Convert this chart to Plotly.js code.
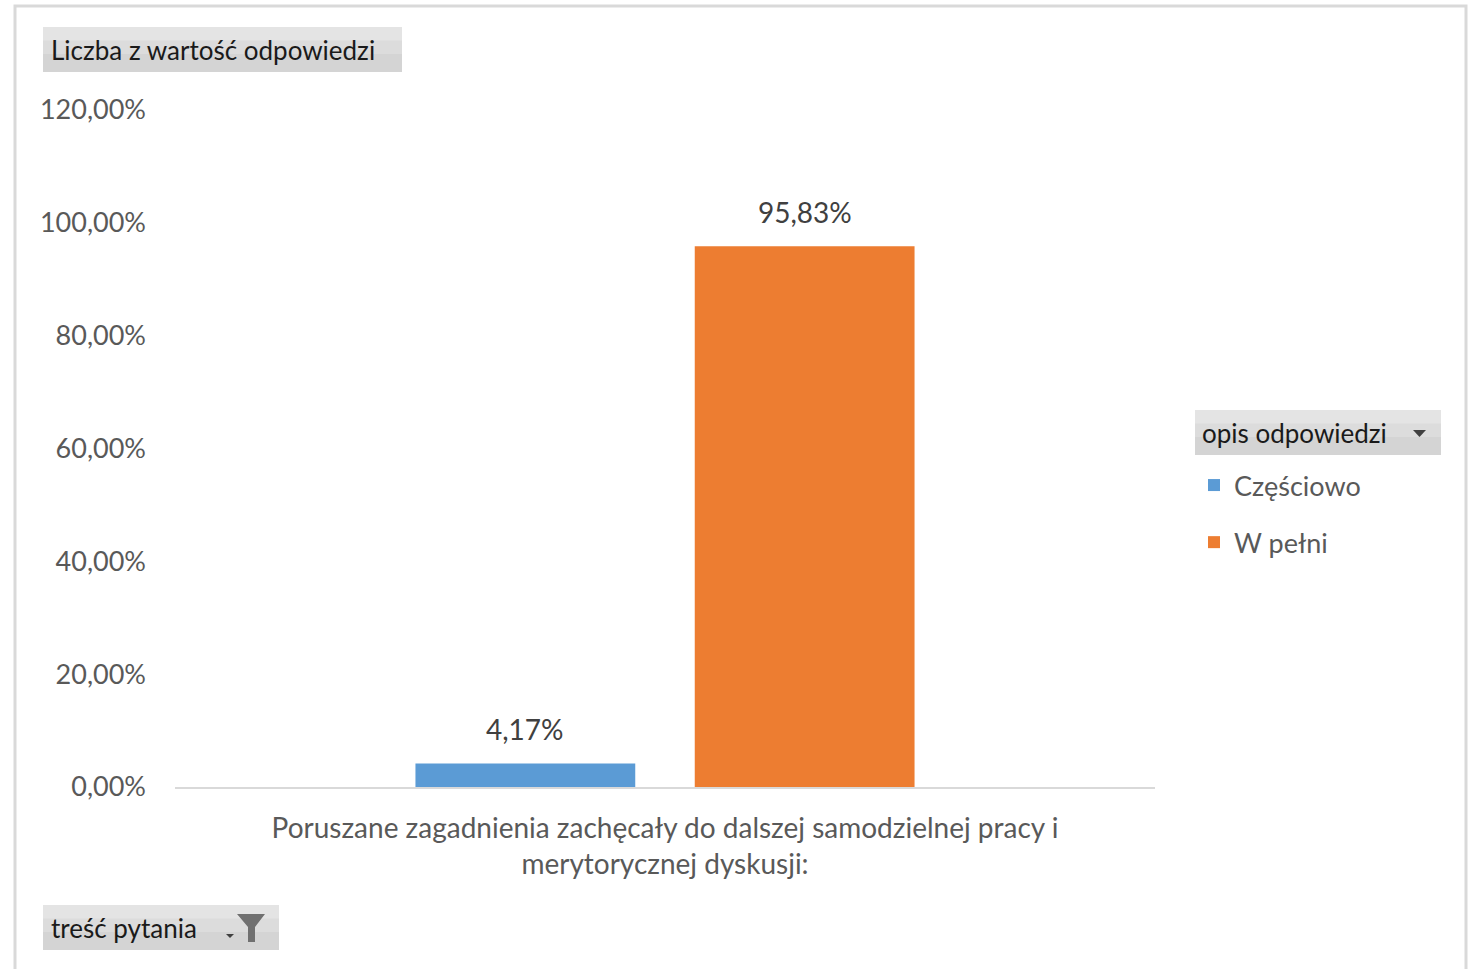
<!DOCTYPE html>
<html>
<head>
<meta charset="utf-8">
<script src="https://cdn.plot.ly/plotly-3.0.1.min.js"></script>
<style>html,body{margin:0;padding:0;background:#fff;}#chart{width:1471px;height:969px;}</style>
</head>
<body>
<div id="chart"></div>
<script>
const categories = ["Poruszane zagadnienia zachęcały do dalszej samodzielnej pracy i<br>merytorycznej dyskusji:"];
const seriesNames = ["Częściowo", "W pełni"];
const czesciowo = [0.0417];
const wPelni = [0.9583];
const seriesColors = ["#5b9bd5", "#ed7d31"];
const yTicks = [0, 0.2, 0.4, 0.6, 0.8, 1.0, 1.2];

const FONT = "Lato, 'Open Sans', sans-serif";
const L = 175, R = 1155, T = 110, B = 787;
const px = v => (v - L) / (R - L);
const py = v => (B - v) / (B - T);
const fmtPct = v => (v * 100).toFixed(2).replace('.', ',') + '%';

const seriesValues = [czesciowo, wPelni];
const traces = seriesValues.map((vals, i) => ({
  type: 'bar',
  name: seriesNames[i],
  x: categories,
  y: vals,
  marker: {color: seriesColors[i]},
  legendgroup: 'g' + i,
  hoverinfo: 'none'
}));

function box(x0, y0, x1, y1) {
  return [
    {type:'rect', xref:'paper', yref:'paper', x0:px(x0), x1:px(x1), y0:py(y0), y1:py(y1), fillcolor:'#d4d4d4', line:{width:0}, layer:'below'},
    {type:'rect', xref:'paper', yref:'paper', x0:px(x0), x1:px(x1), y0:py(y0), y1:py(y0 + (y1-y0)*0.6), fillcolor:'#dcdcdc', line:{width:0}, layer:'below'},
    {type:'rect', xref:'paper', yref:'paper', x0:px(x0), x1:px(x1), y0:py(y0), y1:py(y0 + (y1-y0)*0.3), fillcolor:'#e4e4e4', line:{width:0}, layer:'below'}
  ];
}

const shapes = [
  {type:'rect', xref:'paper', yref:'paper', x0:px(15), x1:px(1466), y0:py(6), y1:py(1000), fillcolor:'rgba(0,0,0,0)', line:{color:'#d9d9d9', width:3}, layer:'below'},
  ...box(43, 27, 402, 72),
  ...box(1195, 410, 1441, 455),
  ...box(43, 905, 279, 950),
  {type:'path', xref:'paper', yref:'paper', path:`M ${px(1413)} ${py(430)} L ${px(1426)} ${py(430)} L ${px(1419.5)} ${py(437)} Z`, fillcolor:'#404040', line:{width:0}},
  {type:'path', xref:'paper', yref:'paper', path:`M ${px(237)} ${py(914)} L ${px(265)} ${py(914)} L ${px(255)} ${py(927)} L ${px(255)} ${py(942)} L ${px(248)} ${py(942)} L ${px(248)} ${py(927)} Z`, fillcolor:'#707070', line:{width:0}},
  {type:'path', xref:'paper', yref:'paper', path:`M ${px(226)} ${py(934)} L ${px(234)} ${py(934)} L ${px(230)} ${py(938)} Z`, fillcolor:'#404040', line:{width:0}}
];

const annotations = [
  {text:'Liczba z wartość odpowiedzi', xref:'paper', yref:'paper', x:px(49), y:py(50), xanchor:'left', yanchor:'middle', showarrow:false, font:{family:FONT, size:26, color:'#1a1a1a'}},
  {text:'opis odpowiedzi', xref:'paper', yref:'paper', x:px(1200), y:py(433), xanchor:'left', yanchor:'middle', showarrow:false, font:{family:FONT, size:26, color:'#1a1a1a'}},
  {text:'treść pytania', xref:'paper', yref:'paper', x:px(49), y:py(928), xanchor:'left', yanchor:'middle', showarrow:false, font:{family:FONT, size:26, color:'#1a1a1a'}}
];

// data labels above the bars, from the data arrays
const barShift = 139.75;
seriesValues.forEach((vals, i) => {
  vals.forEach((v, j) => {
    annotations.push({
      text: fmtPct(v), x: categories[j], y: v, xref: 'x', yref: 'y',
      xshift: (i - (seriesValues.length - 1) / 2) * 2 * barShift,
      yanchor: 'bottom', yshift: 15, showarrow: false,
      font: {family: FONT, size: 28, color: '#404040'}
    });
  });
});

const layout = {
  width: 1471, height: 969,
  margin: {l: L, r: 1471 - R, t: T, b: 969 - B, pad: 0},
  paper_bgcolor: '#ffffff', plot_bgcolor: '#ffffff',
  separators: ', ',
  barmode: 'group',
  bargap: 0.43,
  bargroupgap: 0.213,
  font: {family: FONT, color: '#595959'},
  xaxis: {
    showgrid: false, zeroline: false, showline: true, linecolor: '#d9d9d9', linewidth: 2,
    ticks: '', ticklabelstandoff: 15,
    tickfont: {family: FONT, size: 28, color: '#595959'}, fixedrange: true
  },
  yaxis: {
    range: [0, 1.2], tickvals: yTicks, tickformat: '.2%',
    showgrid: false, zeroline: false, showline: false, ticks: '', ticklabelstandoff: 28,
    tickfont: {family: FONT, size: 27, color: '#595959'}, fixedrange: true
  },
  showlegend: true,
  legend: {
    x: px(1194), y: py(461), xanchor: 'left', yanchor: 'top',
    font: {family: FONT, size: 27, color: '#595959'},
    traceorder: 'grouped', tracegroupgap: 19, itemwidth: 30,
    bgcolor: 'rgba(0,0,0,0)'
  },
  shapes: shapes,
  annotations: annotations
};

Plotly.newPlot('chart', traces, layout, {displayModeBar: false, staticPlot: true});
</script>
</body>
</html>
